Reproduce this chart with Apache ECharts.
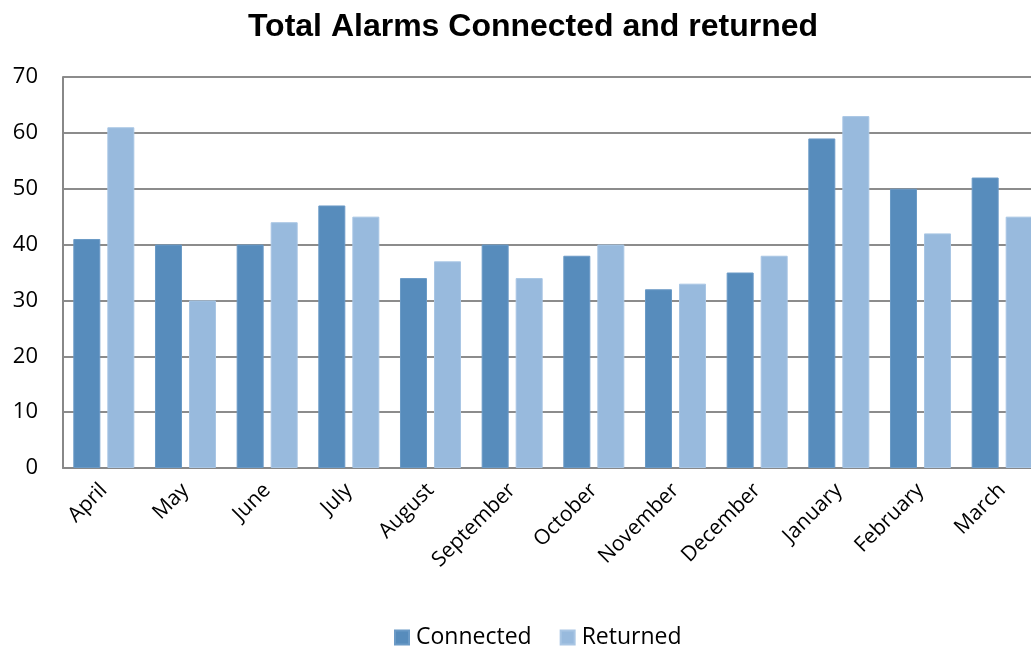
<!DOCTYPE html>
<html><head><meta charset="utf-8">
<script src="https://cdn.jsdelivr.net/npm/echarts@6/dist/echarts.min.js"></script>
<style>html,body{margin:0;padding:0;background:#fff;overflow:hidden}#c{width:1043px;height:646px}</style>
</head><body><div id="c"></div>
<script>
const months = ['April','May','June','July','August','September','October','November','December','January','February','March'];
const connected = [41,40,40,47,34,40,38,32,35,59,50,52];
const returned = [61,30,44,45,37,34,40,33,38,63,42,45];
const yTicks = [0,10,20,30,40,50,60,70];

const chart = echarts.init(document.getElementById('c'));
chart.setOption({
  animation: false,
  backgroundColor: '#fff',
  title: {
    text: 'Total Alarms Connected and returned',
    left: 528, top: 6, textAlign: 'center',
    textStyle: {fontFamily: 'Liberation Sans', fontWeight: 'bold', fontSize: 32, color: '#000'}
  },
  legend: {
    left: 389, top: 621,
    icon: 'rect', itemWidth: 14, itemHeight: 14, itemGap: 28,
    textStyle: {fontFamily: 'Open Sans', fontSize: 23, color: '#000', padding: [0,0,0,2]},
    data: ['Connected','Returned']
  },
  grid: {left: 63, right: 0, top: 77, height: 391, containLabel: false},
  xAxis: {
    type: 'category', data: months,
    axisLine: {lineStyle: {color: '#888', width: 2}},
    axisTick: {show: false},
    axisLabel: {rotate: 45, fontFamily: 'Open Sans', fontSize: 21, color: '#000', margin: 19, interval: 0}
  },
  yAxis: {
    type: 'value', min: yTicks[0], max: yTicks[yTicks.length-1], interval: 10,
    axisLine: {show: true, lineStyle: {color: '#888', width: 2}},
    axisTick: {show: false},
    splitLine: {lineStyle: {color: '#8c8c8c', width: 2}},
    axisLabel: {fontFamily: 'Open Sans', fontSize: 22, color: '#000', margin: 25}
  },
  series: [
    {name: 'Connected', type: 'bar', data: connected, barWidth: 27, barGap: '26%',
     itemStyle: {color: '#578cbc', borderColor: '#6b9ac6', borderWidth: 1}},
    {name: 'Returned', type: 'bar', data: returned, barWidth: 27,
     itemStyle: {color: '#98badd', borderColor: '#a9c6e4', borderWidth: 1}}
  ]
});
</script></body></html>
